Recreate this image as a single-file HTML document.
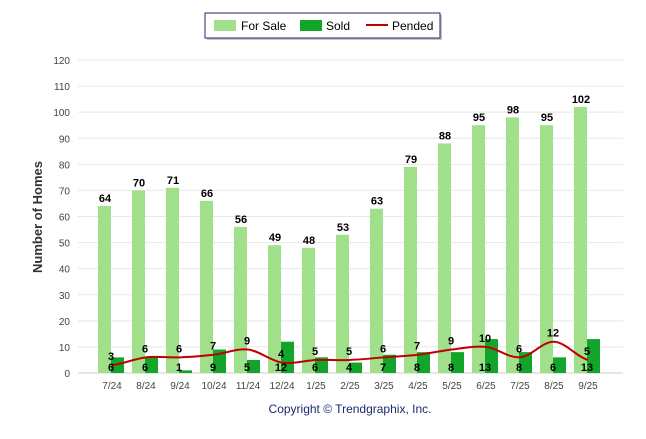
<!DOCTYPE html>
<html><head><meta charset="utf-8"><style>
body{margin:0;background:#fff;font-family:"Liberation Sans",sans-serif}
svg text{font-family:"Liberation Sans",sans-serif}
</style></head><body>
<svg id="c" width="646" height="434">
<g>
<rect x="207" y="15" width="235" height="25" fill="#888" opacity="0.5"/>
<rect x="205" y="13" width="235" height="25" fill="#fff" stroke="#1a2a6c" stroke-width="1"/>
<g><rect x="214" y="20" width="22" height="11" fill="#a0e08a"/><text x="241" y="30" font-size="12">For Sale</text></g>
<g><rect x="300" y="20" width="22" height="11" fill="#12a52a"/><text x="326" y="30" font-size="12">Sold</text></g>
<g><line x1="366" y1="25" x2="388" y2="25" stroke="#c00000" stroke-width="2"/><text x="392" y="30" font-size="12">Pended</text></g>
</g>
<text transform="translate(42,217) rotate(-90)" text-anchor="middle" font-size="13" font-weight="bold" fill="#333">Number of Homes</text>
<text x="350" y="413" text-anchor="middle" font-size="12" fill="#1a2a6c">Copyright © Trendgraphix, Inc.</text>
<g id="grid"></g><g id="marks"></g>
</svg>
<script>
const categories=["7/24","8/24","9/24","10/24","11/24","12/24","1/25","2/25","3/25","4/25","5/25","6/25","7/25","8/25","9/25"];
const forSale=[64,70,71,66,56,49,48,53,63,79,88,95,98,95,102];
const sold=[6,6,1,9,5,12,6,4,7,8,8,13,8,6,13];
const pended=[3,6,6,7,9,4,5,5,6,7,9,10,6,12,5];
const yTicks=[0,10,20,30,40,50,60,70,80,90,100,110,120];
const NS="http://www.w3.org/2000/svg";
const x0=78,step=34,yb=373,ppu=313/120;
const X=i=>x0+step*(i+1), Y=v=>yb-v*ppu;
const grid=document.getElementById('grid'),marks=document.getElementById('marks');
function mk(tag,attrs,parent,txt){const e=document.createElementNS(NS,tag);for(const k in attrs)e.setAttribute(k,attrs[k]);if(txt!==undefined)e.textContent=txt;parent.appendChild(e);return e;}
yTicks.forEach(t=>{
 const l=mk('line',{x1:x0,x2:623,y1:Y(t),y2:Y(t),stroke:t===0?'#ccc':'#e8e8e8'},grid);
 
 
 const tx=mk('text',{x:70,y:Y(t)+4,'text-anchor':'end','font-size':'10',fill:'#444'},grid,t);
 
 
});
categories.forEach((c,i)=>{
 const t=mk('text',{x:X(i),y:389,'text-anchor':'middle','font-size':'10',fill:'#444'},grid,c);
 
 
 const b=mk('rect',{x:X(i)-14,y:Y(forSale[i]),width:13,height:forSale[i]*ppu,fill:'#a0e08a'},marks);
 
 
 const s=mk('rect',{x:X(i)-1,y:Y(sold[i]),width:13,height:sold[i]*ppu,fill:'#12a52a'},marks);
 
 
});
let d='';
pended.forEach((v,i)=>{
 const x=X(i),y=Y(v);
 if(i===0)d+=`M${x},${y}`;else{const px=X(i-1),py=Y(pended[i-1]);const prev=i>1?Y(pended[i-2]):py,next=i<pended.length-1?Y(pended[i+1]):y;
 const c1y=py+(y-prev)/6,c2y=y-(next-py)/6;d+=` C${px+step/3},${c1y} ${x-step/3},${c2y} ${x},${y}`;}
});
const pl=mk('path',{d:d,fill:'none',stroke:'#c00000','stroke-width':2},marks);


categories.forEach((c,i)=>{
 const a=mk('text',{x:X(i)-7,y:Y(forSale[i])-4,'text-anchor':'middle','font-size':'11','font-weight':'bold'},marks,forSale[i]);
 
 
 const b=mk('text',{x:X(i)-1,y:371,'text-anchor':'middle','font-size':'11','font-weight':'bold'},marks,sold[i]);
 
 
 const p=mk('text',{x:X(i)-1,y:Y(pended[i])-5,'text-anchor':'middle','font-size':'11','font-weight':'bold'},marks,pended[i]);
 
 
});
</script>
</body></html>
